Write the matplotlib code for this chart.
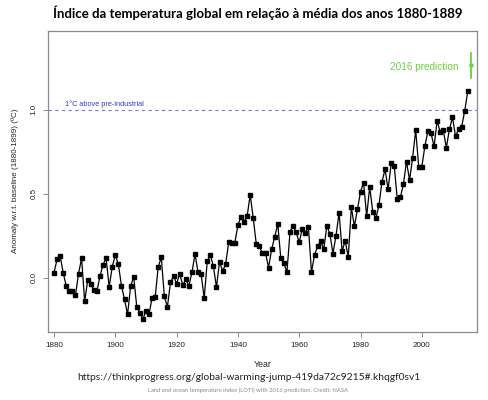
import matplotlib
matplotlib.use("Agg")
import matplotlib.pyplot as plt

years = list(range(1880, 2016))
anomaly = [
    0.03, 0.11, 0.13, 0.03, -0.05, -0.08, -0.08, -0.105, 0.025, 0.115,
    -0.14, -0.015, -0.04, -0.07, -0.08, 0.01, 0.078, 0.115, -0.055, 0.066,
    0.134, 0.08, -0.048, -0.129, -0.218, -0.05, 0.006, -0.173, -0.208, -0.248,
    -0.196, -0.218, -0.119, -0.115, 0.065, 0.121, -0.111, -0.173, -0.028, 0.01,
    -0.036, 0.024, -0.044, -0.01, -0.048, 0.032, 0.141, 0.032, 0.02, -0.121,
    0.099, 0.137, 0.067, -0.056, 0.095, 0.04, 0.081, 0.212, 0.208, 0.208,
    0.313, 0.363, 0.333, 0.365, 0.494, 0.353, 0.2, 0.186, 0.145, 0.149,
    0.06, 0.169, 0.244, 0.319, 0.115, 0.085, 0.034, 0.274, 0.308, 0.27,
    0.21, 0.292, 0.268, 0.3, 0.034, 0.135, 0.188, 0.218, 0.169, 0.308,
    0.262, 0.144, 0.249, 0.387, 0.159, 0.22, 0.123, 0.419, 0.306, 0.407,
    0.512, 0.566, 0.367, 0.54, 0.392, 0.353, 0.43, 0.571, 0.645, 0.526,
    0.68, 0.665, 0.466, 0.478, 0.557, 0.69, 0.581, 0.714, 0.879, 0.657,
    0.661, 0.782, 0.875, 0.859, 0.782, 0.935, 0.865, 0.877, 0.774, 0.883,
    0.954, 0.843, 0.883, 0.899, 0.994, 1.111,
]
pred_year = 2016
pred_center = 1.265
pred_low = 1.187
pred_high = 1.339
threshold = 1.0

xticks = [1880, 1900, 1920, 1940, 1960, 1980, 2000]
yticks = [0.0, 0.5, 1.0]
ytick_labels = ["0.0", "0.5", "1.0"]

title = "Índice da temperatura global em relação à média dos anos 1880-1889"
url = "https://thinkprogress.org/global-warming-jump-419da72c9215#.khqgf0sv1"
caption = "Land and ocean temperature index (LOTI) with 2016 prediction. Credit: NASA"

fig = plt.figure(figsize=(4.88, 4.0), dpi=100)
ax = fig.add_axes([48/488, 1-331.7/400, (477-48)/488, (331.7-30.7)/400])

ax.plot(years, anomaly, color="black", lw=0.9, marker="s", ms=2.5,
        markerfacecolor="black", markeredgecolor="black", zorder=3)
ax.axhline(threshold, color="#7878dc", lw=0.8, ls=(0, (3, 3)), zorder=2)
ax.text(1883.5, threshold + 0.008, "1°C above pre-industrial", color="#3a3ad0",
        fontsize=5.3, family="Liberation Sans", va="bottom", ha="left")

ax.plot([pred_year, pred_year], [pred_low, pred_high], color="#6fcf3f", lw=1.3, zorder=3)
ax.plot([pred_year], [pred_center], marker="o", ms=2.2, color="#6fcf3f", zorder=4)
ax.text(2012, pred_center - 0.01, "2016 prediction", color="#6fcf3f",
        fontsize=7.2, family="Liberation Sans", va="center", ha="right")

ax.set_xlim(1878.04, 2018.0)
ax.set_ylim(-0.321, 1.470)
ax.set_xticks(xticks)
ax.set_xticklabels([str(x) for x in xticks], family="Liberation Sans", fontsize=5.8, color="#222222")
ax.set_yticks(yticks)
ax.set_yticklabels(ytick_labels, family="Liberation Sans", fontsize=5.8, rotation=90,
                   va="center", color="#222222")
ax.tick_params(axis="both", direction="out", length=3.5, width=0.7, color="#888888", pad=4)
for s in ax.spines.values():
    s.set_color("#8a8a8a")
    s.set_linewidth(0.9)

ax.set_xlabel("Year", family="Liberation Sans", fontsize=6.3, labelpad=8, color="#222222")
ax.set_ylabel("Anomaly w.r.t. baseline (1880-1899) (ºC)", family="Liberation Sans",
              fontsize=5.8, labelpad=8, color="#222222")

fig.text(257.5/488, 1-13/400, title, ha="center", va="center", fontsize=9.55,
         family="Lato", weight="bold", color="black")
fig.text(249/488, 1-377.7/400, url, ha="center", va="center", fontsize=7.4,
         family="Lato", color="#222222")
fig.text(248.5/488, 1-390.5/400, caption, ha="center", va="center", fontsize=4.2,
         family="Lato", color="#888888")

fig.savefig("out.png", dpi=100)
